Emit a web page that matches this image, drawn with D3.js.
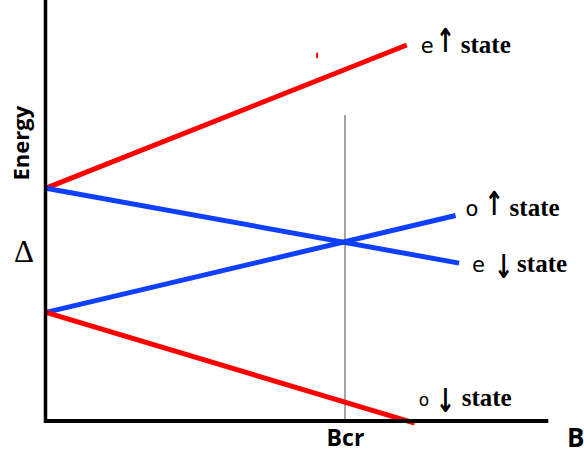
<!DOCTYPE html>
<html>
<head>
<meta charset="utf-8">
<script src="https://cdn.jsdelivr.net/npm/d3@7"></script>
<style>
  body { margin: 0; background: #fff; }
  svg { display: block; }
</style>
</head>
<body>
<div id="chart"></div>
<script>
// Energy levels vs magnetic field B (arbitrary units)
const stateNames = ["e_up", "e_down", "o_up", "o_down"];
const stateB = [[0, 7.24], [0, 8.29], [0, 8.22], [0, 7.40]];
const stateE = [[55.3, 89.3], [55.3, 37.5], [25.8, 48.8], [25.8, -0.5]];
const stateColors = ["#ff0000", "#1040ff", "#1040ff", "#ff0000"];
const labelPrefix = ["e", "e", "o", "o"];
const labelArrow = ["\u2191", "\u2193", "\u2191", "\u2193"];
const labelSuffix = ["state", "state", "state", "state"];
const bCritical = 6;
const bcrLineTop = 72.7;
const strayMark = [[5.44, 86.2], [5.44, 87.5]];

const width = 584, height = 454;
const margin = { top: 0, left: 46, bottom: 33 };

const svg = d3.select("#chart")
  .append("svg")
  .attr("width", width)
  .attr("height", height);

const x = d3.scaleLinear()
  .domain([0, 10])
  .range([margin.left, margin.left + 498.3]);

const y = d3.scaleLinear()
  .domain([0, 100])
  .range([height - margin.bottom, height - margin.bottom - 421]);

const line = d3.line()
  .x(d => x(d[0]))
  .y(d => y(d[1]));

// vertical Bcr marker
svg.append("line")
  .attr("x1", x(bCritical)).attr("x2", x(bCritical))
  .attr("y1", y(bcrLineTop)).attr("y2", y(0))
  .attr("stroke", "#888")
  .attr("stroke-width", 1.5);

// state lines
stateNames.forEach((name, i) => {
  const pts = stateB[i].map((b, j) => [b, stateE[i][j]]);
  svg.append("path")
    .datum(pts)
    .attr("class", name)
    .attr("fill", "none")
    .attr("stroke", stateColors[i])
    .attr("stroke-width", 5)
    .attr("d", line);
});

svg.append("path")
  .datum(strayMark)
  .attr("fill", "none")
  .attr("stroke", "#ff0000")
  .attr("stroke-width", 2)
  .attr("d", line);

// axes
const xAxis = svg.append("g")
  .attr("transform", `translate(0, ${y(0)})`)
  .call(d3.axisBottom(x).tickValues([bCritical]).tickFormat(() => "Bcr").tickSize(0).tickPadding(9).tickSizeOuter(0));
xAxis.select(".domain")
  .attr("d", `M${x(0) - 2},0H${x(10) + 4}`)
  .attr("stroke", "#000")
  .attr("stroke-width", 4);
xAxis.selectAll("text")
  .attr("font-family", "'Open Sans', sans-serif")
  .attr("font-weight", 700)
  .attr("font-size", 23)
  .attr("fill", "#000");

const yAxis = svg.append("g")
  .attr("transform", `translate(${x(0) - 0.5}, 0)`)
  .call(d3.axisLeft(y).tickValues([]).tickSizeOuter(0));
yAxis.select(".domain")
  .attr("d", `M0,${y(100) - 2}V${y(0) + 2}`)
  .attr("stroke", "#000")
  .attr("stroke-width", 3.5);

// axis titles
svg.append("text")
  .attr("transform", `translate(29, ${y(66)}) rotate(-90)`)
  .attr("text-anchor", "middle")
  .attr("font-family", "'Open Sans', sans-serif")
  .attr("font-weight", 700)
  .attr("font-size", 22)
  .text("Energy");

svg.append("text")
  .attr("x", 567)
  .attr("y", 447)
  .attr("font-family", "'Open Sans', sans-serif")
  .attr("font-weight", 700)
  .attr("font-size", 26)
  .text("B");

svg.append("text")
  .attr("x", 24)
  .attr("y", 262)
  .attr("text-anchor", "middle")
  .attr("font-family", "'Liberation Serif', serif")
  .attr("font-size", 31)
  .text("\u0394");

// state labels (offsets from the line ends, in px)
const labelOffset = [[14, 8], [13, 9], [10, 0], [4, -17]];
const arrowShift = [15, 22, 19, 17];
const wordShift = [40, 45, 44, 43];
const arrowDy = [-1, 6, -1, 6];
const prefixSize = [21, 21, 21, 17];

stateNames.forEach((name, i) => {
  const bx = x(stateB[i][1]) + labelOffset[i][0];
  const by = y(stateE[i][1]) + labelOffset[i][1];
  svg.append("text")
    .attr("x", bx)
    .attr("y", by)
    .attr("font-family", "'DejaVu Sans', sans-serif")
    .attr("font-size", prefixSize[i])
    .text(labelPrefix[i]);
  svg.append("text")
    .attr("transform", `translate(${bx + arrowShift[i]}, ${by + arrowDy[i]}) scale(1.05, 1.5)`)
    .attr("font-family", "'DejaVu Sans', sans-serif")
    .attr("font-weight", 700)
    .attr("font-size", 22)
    .text(labelArrow[i]);
  svg.append("text")
    .attr("x", bx + wordShift[i])
    .attr("y", by)
    .attr("font-family", "'Liberation Serif', serif")
    .attr("font-weight", 700)
    .attr("font-size", 25)
    .text(labelSuffix[i]);
});
</script>
</body>
</html>
